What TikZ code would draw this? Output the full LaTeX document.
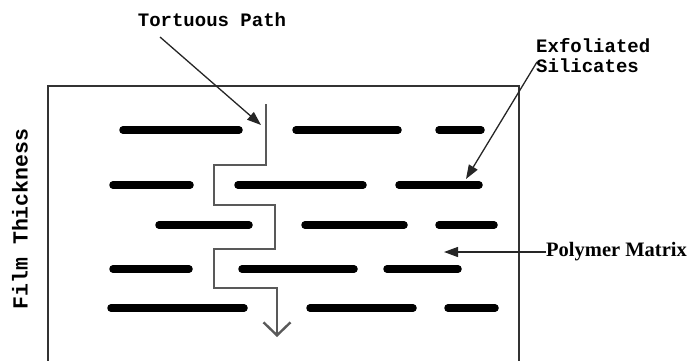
\documentclass[tikz,border=0pt]{standalone}
\usepackage{fontspec}
\setmainfont{Liberation Serif}
\newfontfamily\labelfont{Liberation Mono}
\usetikzlibrary{arrows.meta}

\tikzset{silicate/.style = {line width=7.5pt, line cap=round, black},
         film/.style = {line width=2.4pt, black!80},
         tortuous/.style = {line width=2.4pt, black!65, line join=miter,
                            -{Straight Barb[length=13pt, width=27pt]}},
         pointer/.style = {line width=1.3pt, black!85,
                           -{Triangle[length=14pt, width=10pt]}},
         monolabel/.style = {inner sep=0pt, font=\labelfont\bfseries\fontsize{19}{20}\selectfont},
         seriflabel/.style = {inner sep=0pt, font=\bfseries\fontsize{20.5}{22}\selectfont}
        }

\begin{document}
\begin{tikzpicture}[x=1pt, y=-1pt]
  \useasboundingbox (0,0) rectangle (688,361);
  \draw[film] (48,361) -- (48,86) -- (519,86) -- (519,361);
  \draw[silicate] (123,130) -- (239,130);
  \draw[silicate] (296,130) -- (398,130);
  \draw[silicate] (439,130) -- (481,130);
  \draw[silicate] (113,185) -- (190,185);
  \draw[silicate] (238,185) -- (363,185);
  \draw[silicate] (399,185) -- (479,185);
  \draw[silicate] (159,225) -- (249,225);
  \draw[silicate] (305,225) -- (404,225);
  \draw[silicate] (439,225) -- (494,225);
  \draw[silicate] (113,269) -- (189,269);
  \draw[silicate] (242,269) -- (354,269);
  \draw[silicate] (387,269) -- (458,269);
  \draw[silicate] (111,308) -- (244,308);
  \draw[silicate] (310,308) -- (413,308);
  \draw[silicate] (448,308) -- (495,308);
  \draw[tortuous] (266,104) -- (266,165) -- (214,165) -- (214,205) -- (275,205)
                  -- (275,249) -- (214,249) -- (214,288) -- (277,288) -- (277,337);
  \node[monolabel] (tort) at (212,20) {Tortuous Path};
  \node[monolabel, anchor=north west, align=left] (exfol) at (536,38) {Exfoliated\\Silicates};
  \node[seriflabel, anchor=west] (matrix) at (546,252) {Polymer Matrix};
  \node[monolabel, rotate=90, font=\labelfont\bfseries\fontsize{21.5}{22}\selectfont] (thick) at (20,219) {Film Thickness};
  \coordinate (tortstart) at (160,37);
  \coordinate (tortend) at (261,125);
  \coordinate (exfolstart) at (537,62);
  \coordinate (exfolend) at (466,179);
  \coordinate (matrixend) at (444,252);
  \draw[pointer] (tortstart) -- (tortend);
  \draw[pointer] (exfolstart) -- (exfolend);
  \draw[pointer] (matrix.west) -- (matrixend);
\end{tikzpicture}
\end{document}
